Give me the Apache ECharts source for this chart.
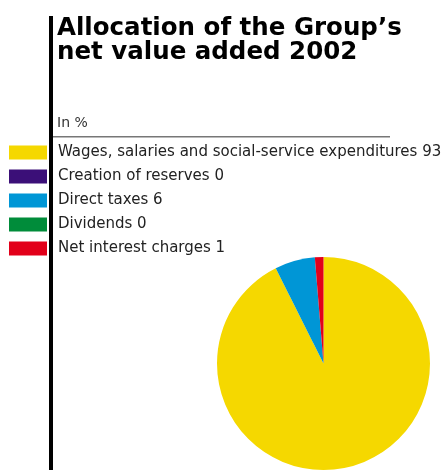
<!DOCTYPE html>
<html><head><meta charset="utf-8">
<script src="https://cdn.jsdelivr.net/npm/echarts@6/dist/echarts.min.js"></script>
<style>html,body{margin:0;padding:0;background:#fff}#c{width:441px;height:470px}</style>
</head><body><div id="c"></div>
<script>
var categories = ['Wages, salaries and social-service expenditures', 'Creation of reserves', 'Direct taxes', 'Dividends', 'Net interest charges'];
var values = [92.6, 0, 6.1, 0, 1.3];
var shownValues = [93, 0, 6, 0, 1];
var colors = ['#F5D800', '#3B0F78', '#0096D6', '#008C3A', '#E2001A'];

var chart = echarts.init(document.getElementById('c'));
var data = categories.map(function (n, i) { return { name: n, value: values[i], itemStyle: { color: colors[i] } }; });
chart.setOption({
  animation: false,
  title: {
    text: 'Allocation of the Group\u2019s\nnet value added 2002',
    left: 52, top: 12,
    textStyle: { fontFamily: 'DejaVu Sans', fontWeight: 'bold', fontSize: 24.5, lineHeight: 24, color: '#000' }
  },
  graphic: [
    { type: 'rect', shape: { x: 49, y: 16, width: 4, height: 460 }, style: { fill: '#000' } },
    { type: 'rect', shape: { x: 53, y: 136, width: 337, height: 1.5 }, style: { fill: '#777' } },
    { type: 'text', left: 57, top: 116, style: { text: 'In %', fontFamily: 'DejaVu Sans', fontSize: 14, fill: '#333' } }
  ],
  legend: {
    orient: 'vertical', left: 4, top: 140,
    icon: 'rect', itemWidth: 38, itemHeight: 14, itemGap: 9,
    selectedMode: false,
    textStyle: { fontFamily: 'DejaVu Sans', fontSize: 15, color: '#222', padding: [0, 0, 0, 6] },
    formatter: function (name) { return name + ' ' + shownValues[categories.indexOf(name)]; },
    data: categories
  },
  series: [{
    type: 'pie', center: [323.5, 363.5], radius: [0, 106.5], startAngle: 90, clockwise: true,
    label: { show: false }, labelLine: { show: false }, silent: true,
    itemStyle: { borderWidth: 0 },
    data: data
  }]
});
</script></body></html>
